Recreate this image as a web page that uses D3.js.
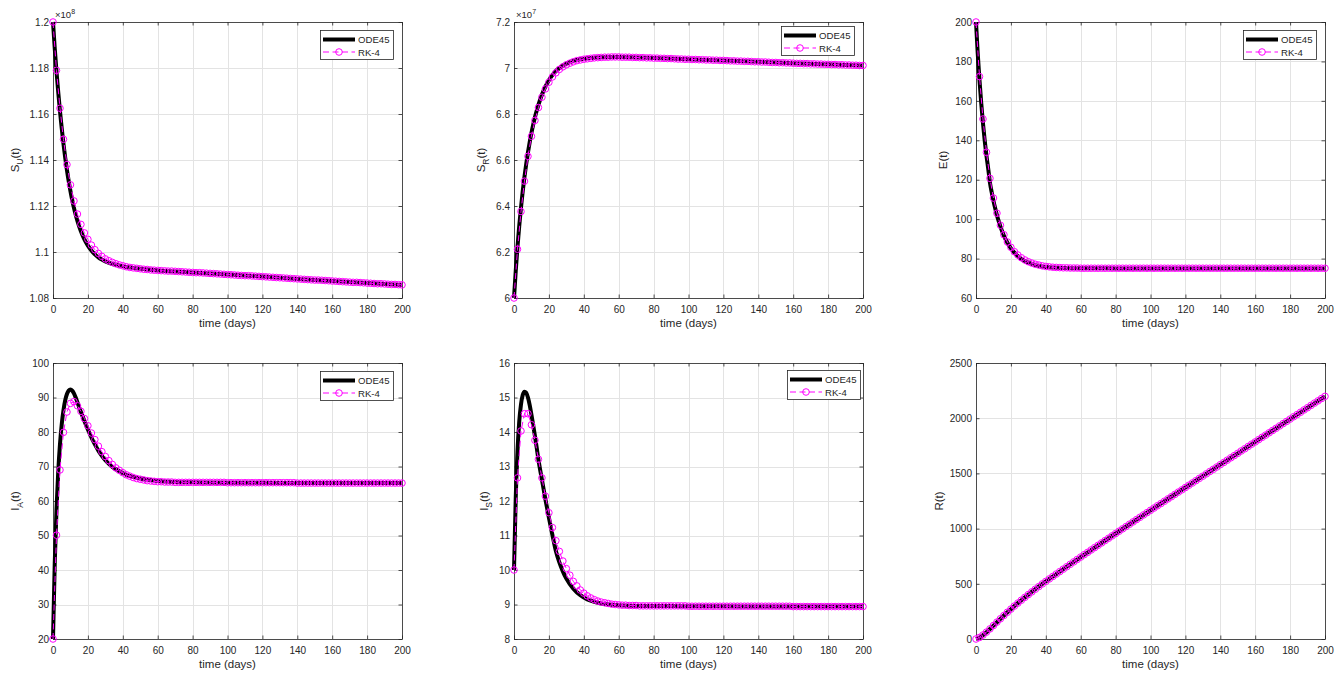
<!DOCTYPE html>
<html>
<head>
<meta charset="utf-8">
<script src="https://cdn.jsdelivr.net/npm/d3@7"></script>
<style>
  body { margin: 0; background: #fff; }
  svg text { font-family: "Liberation Sans", Arial, Helvetica, sans-serif; fill: #262626; }
</style>
</head>
<body>
<svg id="fig" width="1343" height="676"></svg>
<script>
// RK-4 solution, fixed step h = 2 days
const rkTime = d3.range(0, 201, 2);
// ODE45 output samples (adaptive steps, denser at the start)
const odeTime = [0, 1, 2, 3, 4, 5, 6, 7, 8, 9, 10, 11, 12, 13, 14, 16, 18, 20, 22, 24, 26, 28, 30,
  34, 38, 42, 46, 50, 60, 70, 80, 100, 120, 140, 160, 180, 200];

const xTicks = [0, 20, 40, 60, 80, 100, 120, 140, 160, 180, 200];

// S_U(t), x 10^8
const odeSU = [1.2000, 1.1885, 1.1785, 1.1695, 1.1612, 1.1538, 1.1470, 1.1410, 1.1356, 1.1308, 1.1265,
  1.1226, 1.1192, 1.1162, 1.1135, 1.1090, 1.1055, 1.1028, 1.1007, 1.0990, 1.0977, 1.0967, 1.0959,
  1.0948, 1.0941, 1.0935, 1.0931, 1.0927, 1.0920, 1.0915, 1.0911, 1.0902, 1.0893, 1.0883, 1.0874, 1.0865, 1.0857];
const rkSU = [1.2000, 1.1790, 1.1625, 1.1490, 1.1380, 1.1292, 1.1222, 1.1165, 1.1120, 1.1083, 1.1055,
  1.1030, 1.1010, 1.0994, 1.0981, 1.0970, 1.0962, 1.0955, 1.0949, 1.0944, 1.0940,
  1.0936, 1.0933, 1.0931, 1.0929, 1.0927, 1.0925, 1.0924, 1.0922, 1.0921,
  1.0920, 1.0919, 1.0918, 1.0917, 1.0917, 1.0916, 1.0915, 1.0914, 1.0913, 1.0912,
  1.0911, 1.0910, 1.0910, 1.0909, 1.0908, 1.0907, 1.0906, 1.0905, 1.0904, 1.0903,
  1.0902, 1.0901, 1.0900, 1.0899, 1.0898, 1.0897, 1.0897, 1.0896, 1.0895, 1.0894,
  1.0893, 1.0892, 1.0891, 1.0890, 1.0889, 1.0888, 1.0887, 1.0886, 1.0885, 1.0884,
  1.0883, 1.0882, 1.0881, 1.0880, 1.0879, 1.0878, 1.0878, 1.0877, 1.0876, 1.0875,
  1.0874, 1.0873, 1.0872, 1.0871, 1.0870, 1.0869, 1.0868, 1.0868, 1.0867, 1.0866,
  1.0865, 1.0864, 1.0863, 1.0862, 1.0862, 1.0861, 1.0860, 1.0859, 1.0859, 1.0858, 1.0857];
const suTicks = [1.08, 1.1, 1.12, 1.14, 1.16, 1.18, 1.2];

// S_R(t), x 10^7
const odeSR = [6.000, 6.118, 6.222, 6.313, 6.393, 6.464, 6.527, 6.583, 6.633, 6.678, 6.718,
  6.754, 6.786, 6.814, 6.840, 6.884, 6.919, 6.947, 6.969, 6.987, 7.000, 7.011, 7.019,
  7.031, 7.038, 7.042, 7.045, 7.047, 7.048, 7.046, 7.043, 7.038, 7.033, 7.027, 7.021, 7.016, 7.011];
const rkSR = [6.000, 6.212, 6.376, 6.508, 6.616, 6.703, 6.772, 6.828, 6.873, 6.909, 6.938,
  6.961, 6.979, 6.994, 7.005, 7.014, 7.021, 7.027, 7.032, 7.035, 7.038,
  7.040, 7.042, 7.044, 7.045, 7.046, 7.047, 7.047, 7.048, 7.048,
  7.048, 7.047, 7.047, 7.047, 7.046, 7.046, 7.045, 7.045, 7.044, 7.044,
  7.043, 7.043, 7.042, 7.042, 7.041, 7.041, 7.040, 7.039, 7.039, 7.038,
  7.038, 7.037, 7.037, 7.036, 7.036, 7.035, 7.035, 7.034, 7.034, 7.033,
  7.033, 7.032, 7.031, 7.031, 7.030, 7.030, 7.029, 7.029, 7.028, 7.027,
  7.027, 7.026, 7.026, 7.025, 7.024, 7.024, 7.023, 7.023, 7.022, 7.022,
  7.021, 7.020, 7.020, 7.019, 7.019, 7.018, 7.018, 7.017, 7.017, 7.016,
  7.016, 7.015, 7.015, 7.014, 7.014, 7.013, 7.013, 7.012, 7.012, 7.011, 7.011];
const srTicks = [6, 6.2, 6.4, 6.6, 6.8, 7, 7.2];

// E(t)
const odeE = [200, 184, 170.5, 158.8, 148.6, 139.8, 132.2, 125.6, 118.5, 113.6, 109.3,
  105.5, 102.0, 99.0, 96.2, 91.6, 88.0, 85.2, 83.0, 81.2, 79.8, 78.7, 77.9,
  76.7, 76.0, 75.6, 75.4, 75.2, 75.1, 75.1, 75.0, 75.0, 75.0, 75.0, 75.0, 75.0, 75.0];
const rkE = [200, 172.3, 150.8, 133.9, 120.7, 110.7, 103.0, 96.9, 92.1, 88.4, 85.7,
  83.5, 81.8, 80.4, 79.3, 78.4, 77.7, 77.1, 76.7, 76.3, 76.0,
  75.8, 75.6, 75.5, 75.4, 75.3, 75.3, 75.2, 75.2, 75.2,
  75.1, 75.1, 75.1, 75.1, 75.1, 75.1, 75.1, 75.1, 75.1, 75.1,
  75.1, 75.1, 75.1, 75.1, 75.1, 75.1, 75.1, 75.1, 75.1, 75.1,
  75.1, 75.1, 75.1, 75.1, 75.1, 75.1, 75.1, 75.1, 75.1, 75.1,
  75.1, 75.1, 75.1, 75.1, 75.1, 75.1, 75.1, 75.1, 75.1, 75.1,
  75.1, 75.1, 75.1, 75.1, 75.1, 75.1, 75.1, 75.1, 75.1, 75.1,
  75.1, 75.1, 75.1, 75.1, 75.1, 75.1, 75.1, 75.1, 75.1, 75.1,
  75.1, 75.1, 75.1, 75.1, 75.1, 75.1, 75.1, 75.1, 75.1, 75.1, 75.1];
const eTicks = [60, 80, 100, 120, 140, 160, 180, 200];

// I_A(t)
const odeIA = [20, 42, 57.5, 68.5, 76.5, 82.2, 86.3, 89.2, 91.0, 92.0, 92.3,
  92.0, 91.2, 90.0, 88.6, 85.8, 83.2, 80.7, 78.4, 76.4, 74.6, 73.1, 71.8,
  69.9, 68.6, 67.6, 67.0, 66.5, 65.8, 65.5, 65.4, 65.3, 65.3, 65.2, 65.2, 65.2, 65.2];
const rkIA = [20.0, 50.1, 69.0, 79.9, 85.8, 88.3, 88.8, 87.6, 86.0, 83.9, 81.8,
  79.7, 77.8, 75.9, 74.3, 72.9, 71.7, 70.6, 69.6, 68.9, 68.2,
  67.6, 67.2, 66.8, 66.5, 66.3, 66.1, 65.9, 65.8, 65.7,
  65.6, 65.6, 65.5, 65.5, 65.5, 65.4, 65.4, 65.4, 65.4, 65.4,
  65.4, 65.4, 65.4, 65.4, 65.4, 65.4, 65.4, 65.4, 65.4, 65.4,
  65.3, 65.3, 65.3, 65.3, 65.3, 65.3, 65.3, 65.3, 65.3, 65.3,
  65.3, 65.3, 65.3, 65.3, 65.3, 65.3, 65.3, 65.3, 65.3, 65.3,
  65.2, 65.2, 65.2, 65.2, 65.2, 65.2, 65.2, 65.2, 65.2, 65.2,
  65.2, 65.2, 65.2, 65.2, 65.2, 65.2, 65.2, 65.2, 65.2, 65.2,
  65.2, 65.2, 65.2, 65.2, 65.2, 65.2, 65.2, 65.2, 65.2, 65.2, 65.2];
const iaTicks = [20, 30, 40, 50, 60, 70, 80, 90, 100];

// I_S(t)
const odeIS = [10, 12.1, 13.45, 14.3, 14.8, 15.07, 15.17, 15.14, 15.0, 14.78, 14.5,
  14.2, 13.88, 13.55, 13.2, 12.62, 12.05, 11.52, 11.02, 10.55, 10.22, 9.96, 9.75,
  9.46, 9.27, 9.15, 9.08, 9.03, 8.98, 8.96, 8.96, 8.95, 8.95, 8.94, 8.94, 8.94, 8.94];
const rkIS = [10.00, 12.67, 14.03, 14.53, 14.53, 14.21, 13.76, 13.21, 12.67, 12.14, 11.66,
  11.23, 10.85, 10.54, 10.26, 10.04, 9.85, 9.67, 9.54, 9.42, 9.33,
  9.25, 9.19, 9.14, 9.10, 9.07, 9.05, 9.03, 9.01, 9.00,
  8.99, 8.98, 8.98, 8.97, 8.97, 8.97, 8.96, 8.96, 8.96, 8.96,
  8.96, 8.96, 8.96, 8.96, 8.96, 8.96, 8.96, 8.96, 8.96, 8.96,
  8.95, 8.95, 8.95, 8.95, 8.95, 8.95, 8.95, 8.95, 8.95, 8.95,
  8.95, 8.95, 8.95, 8.95, 8.95, 8.95, 8.95, 8.95, 8.95, 8.95,
  8.95, 8.95, 8.95, 8.95, 8.95, 8.95, 8.95, 8.95, 8.95, 8.95,
  8.94, 8.94, 8.94, 8.94, 8.94, 8.94, 8.94, 8.94, 8.94, 8.94,
  8.94, 8.94, 8.94, 8.94, 8.94, 8.94, 8.94, 8.94, 8.94, 8.94, 8.94];
const isTicks = [8, 9, 10, 11, 12, 13, 14, 15, 16];

// R(t)
const odeR = [0, 5.8, 13.6, 23.5, 35.0, 47.6, 61.2, 75.4, 90.0, 105.2, 120.6,
  136.2, 151.8, 167.3, 182.6, 212.6, 241.9, 270.4, 298.2, 325.2, 351.4, 377.0, 402.3,
  451.1, 498.6, 544.1, 588.4, 632.6, 742.3, 849.1, 955.3, 1165.5, 1372, 1579, 1785, 1992, 2198];
const rkR = [0, 13.9, 35.8, 62.4, 91.6, 122.1, 152.9, 183.3, 213.2, 242.4, 270.8,
  298.5, 325.4, 351.5, 377.1, 402.4, 427.0, 451.2, 475.0, 498.7, 521.9,
  544.1, 566.3, 588.4, 610.5, 632.6, 654.6, 676.6, 698.6, 720.5,
  742.3, 763.7, 785.1, 806.5, 827.8, 849.1, 870.4, 891.7, 912.9, 934.1,
  955.3, 976.5, 997.6, 1018.7, 1039.8, 1060.8, 1081.8, 1102.8, 1123.7, 1144.6,
  1165.5, 1186, 1207, 1227, 1248, 1269, 1289, 1310, 1331, 1351,
  1372, 1393, 1413, 1434, 1455, 1475, 1496, 1517, 1537, 1558,
  1579, 1599, 1620, 1641, 1661, 1682, 1703, 1723, 1744, 1765,
  1785, 1806, 1827, 1847, 1868, 1889, 1909, 1930, 1951, 1971,
  1992, 2013, 2033, 2054, 2075, 2095, 2116, 2137, 2157, 2178, 2198];
const rTicks = [0, 500, 1000, 1500, 2000, 2500];

const panels = [
  { ode: odeSU, rk: rkSU, ticks: suTicks, name: "S", sub: "U", exp: "8", col: 0, row: 0, labOff: 34, legend: [267, 8] },
  { ode: odeSR, rk: rkSR, ticks: srTicks, name: "S", sub: "R", exp: "7", col: 1, row: 0, labOff: 29, legend: [267, 4] },
  { ode: odeE, rk: rkE, ticks: eTicks, name: "E", sub: null, exp: null, col: 2, row: 0, labOff: 29, legend: [267, 8] },
  { ode: odeIA, rk: rkIA, ticks: iaTicks, name: "I", sub: "A", exp: null, col: 0, row: 1, labOff: 34, legend: [267, 8] },
  { ode: odeIS, rk: rkIS, ticks: isTicks, name: "I", sub: "S", exp: null, col: 1, row: 1, labOff: 26, legend: [273, 7] },
  { ode: odeR, rk: rkR, ticks: rTicks, name: "R", sub: null, exp: null, col: 2, row: 1, labOff: 33, legend: null }
];

const svg = d3.select("#fig");
const W = 349, H = 276;
const colX = [53, 514, 976];
const rowY = [22, 363];
const axisCol = "#262626";
const magenta = "#ff00ff";
const fmt = d => String(+d.toFixed(4));

panels.forEach(p => {
  const g = svg.append("g").attr("transform", `translate(${colX[p.col]},${rowY[p.row]})`);
  const x = d3.scaleLinear().domain([0, 200]).range([0, W]);
  const y = d3.scaleLinear().domain(d3.extent(p.ticks)).range([H, 0]);

  // grid
  g.append("g").selectAll("line").data(xTicks).join("line")
    .attr("x1", d => Math.round(x(d)) + 0.5).attr("x2", d => Math.round(x(d)) + 0.5)
    .attr("y1", 0).attr("y2", H)
    .attr("stroke", "#e3e3e3").attr("stroke-width", 1);
  g.append("g").selectAll("line").data(p.ticks).join("line")
    .attr("y1", d => Math.round(y(d)) + 0.5).attr("y2", d => Math.round(y(d)) + 0.5)
    .attr("x1", 0).attr("x2", W)
    .attr("stroke", "#e3e3e3").attr("stroke-width", 1);

  // axes, ticks pointing inwards on all four sides
  const styleAxis = sel => {
    sel.select(".domain").remove();
    sel.selectAll("line").attr("stroke", axisCol).attr("stroke-width", 0.8);
    sel.selectAll("text").attr("fill", axisCol)
      .style("font-family", '"Liberation Sans", Arial, sans-serif').style("font-size", "10px");
  };
  g.append("g").attr("transform", `translate(0,${H})`)
    .call(d3.axisBottom(x).tickValues(xTicks).tickFormat(fmt).tickSizeInner(-3.5).tickSizeOuter(0).tickPadding(8))
    .call(styleAxis);
  g.append("g")
    .call(d3.axisTop(x).tickValues(xTicks).tickFormat("").tickSizeInner(-3.5).tickSizeOuter(0))
    .call(styleAxis);
  g.append("g")
    .call(d3.axisLeft(y).tickValues(p.ticks).tickFormat(fmt).tickSizeInner(-3.5).tickSizeOuter(0).tickPadding(4))
    .call(styleAxis);
  g.append("g").attr("transform", `translate(${W},0)`)
    .call(d3.axisRight(y).tickValues(p.ticks).tickFormat("").tickSizeInner(-3.5).tickSizeOuter(0))
    .call(styleAxis);

  g.append("rect").attr("x", 0.5).attr("y", 0.5).attr("width", W).attr("height", H)
    .attr("fill", "none").attr("stroke", axisCol).attr("stroke-width", 0.8);

  // ODE45 – thick black line
  const odeLine = d3.line().x((d, i) => x(odeTime[i])).y(d => y(d)).curve(d3.curveMonotoneX);
  g.append("path").datum(p.ode).attr("d", odeLine)
    .attr("fill", "none").attr("stroke", "#000").attr("stroke-width", 4).attr("stroke-linejoin", "round");

  // RK-4 – dashed magenta with circles
  const rkLine = d3.line().x((d, i) => x(rkTime[i])).y(d => y(d));
  g.append("path").datum(p.rk).attr("d", rkLine)
    .attr("fill", "none").attr("stroke", magenta).attr("stroke-width", 1).attr("stroke-dasharray", "6,3.5");
  g.append("g").selectAll("circle").data(p.rk).join("circle")
    .attr("cx", (d, i) => x(rkTime[i])).attr("cy", d => y(d)).attr("r", 3.3)
    .attr("fill", "none").attr("stroke", magenta).attr("stroke-width", 1);

  // x label
  g.append("text").attr("x", W / 2).attr("y", H + 29).attr("text-anchor", "middle")
    .style("font-size", "11.5px").text("time (days)");

  // y label with subscript
  const yl = g.append("text").attr("transform", `translate(${-p.labOff},${H / 2}) rotate(-90)`)
    .attr("text-anchor", "middle").style("font-size", "11.5px");
  yl.append("tspan").text(p.name);
  if (p.sub) {
    yl.append("tspan").attr("dy", 3.5).style("font-size", "8.5px").text(p.sub);
    yl.append("tspan").attr("dy", -3.5).text("(t)");
  } else {
    yl.append("tspan").text("(t)");
  }

  // exponent label
  if (p.exp) {
    const ex = g.append("text").attr("x", 2).attr("y", -4).style("font-size", "9.5px");
    ex.append("tspan").text("\u00d710");
    ex.append("tspan").attr("dy", -4).style("font-size", "7px").text(p.exp);
  }

  // legend
  if (p.legend) {
    const lg = g.append("g").attr("transform", `translate(${p.legend[0]},${p.legend[1]})`);
    lg.append("rect").attr("x", 0.5).attr("y", 0.5).attr("width", 73).attr("height", 29)
      .attr("fill", "#fff").attr("stroke", axisCol).attr("stroke-width", 0.8);
    lg.append("line").attr("x1", 3).attr("x2", 35).attr("y1", 9.5).attr("y2", 9.5)
      .attr("stroke", "#000").attr("stroke-width", 4);
    lg.append("text").attr("x", 38).attr("y", 13).style("font-size", "9.6px").text("ODE45");
    lg.append("line").attr("x1", 3).attr("x2", 35).attr("y1", 22).attr("y2", 22)
      .attr("stroke", magenta).attr("stroke-width", 1).attr("stroke-dasharray", "6,3.5");
    lg.append("circle").attr("cx", 19).attr("cy", 22).attr("r", 3.3)
      .attr("fill", "none").attr("stroke", magenta).attr("stroke-width", 1);
    lg.append("text").attr("x", 38).attr("y", 25.5).style("font-size", "9.6px").text("RK-4");
  }
});
</script>
</body>
</html>
